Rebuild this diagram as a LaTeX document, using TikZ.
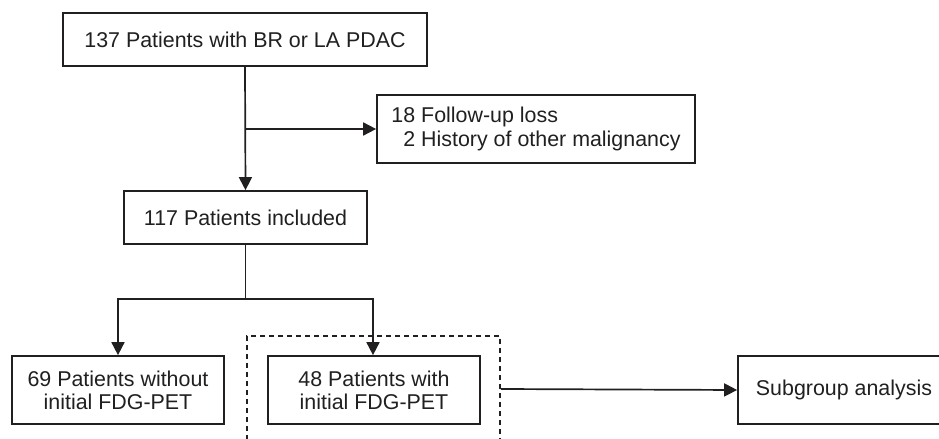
\documentclass[tikz,border=0pt]{standalone}
\usepackage{fontspec}
\setmainfont{Liberation Sans}
\usetikzlibrary{arrows.meta}

\newlength{\du}
\setlength{\du}{0.5pt}
\definecolor{dialinecolor}{rgb}{0.130000, 0.120000, 0.120000}

\tikzset{
  flowbox/.style={draw=dialinecolor, line width=0.85pt, fill=white, text=dialinecolor,
    inner sep=0pt, align=center, font=\fontsize{10.7}{11.6}\selectfont},
  groupbox/.style={draw=dialinecolor, line width=0.85pt, dash pattern=on 2.5pt off 2pt,
    minimum width=253\du, minimum height=106\du, inner sep=0pt},
  flowarrow/.style={draw=dialinecolor, line width=0.85pt, -{Triangle[length=6.5pt,width=6.5pt]}},
  flowline/.style={draw=dialinecolor, line width=0.85pt}
}

\begin{document}
\begin{tikzpicture}
\pgftransformxscale{1.000000}
\pgftransformyscale{-1.000000}
\useasboundingbox (0\du,0\du) rectangle (939\du,439\du);
% dashed frame round the FDG-PET group
\node[groupbox] (grp) at (373.500000\du,389.000000\du) {};
% boxes
\node[flowbox, minimum width=364\du, minimum height=53\du] (start) at (245.000000\du,39.500000\du) {137 Patients with BR or LA PDAC};
\node[flowbox, minimum width=318\du, minimum height=68\du, align=left] (excl) at (536.000000\du,129.000000\du) {18 Follow-up loss\\\phantom{1}2 History of other malignancy};
\node[flowbox, minimum width=243\du, minimum height=53\du] (incl) at (245.500000\du,217.500000\du) {117 Patients included};
\node[flowbox, minimum width=212\du, minimum height=68\du] (nopet) at (118.000000\du,390.000000\du) {69 Patients without\\initial FDG-PET};
\node[flowbox, minimum width=212\du, minimum height=68\du] (pet) at (374.000000\du,390.000000\du) {48 Patients with\\initial FDG-PET};
\node[flowbox, minimum width=212\du, minimum height=68\du] (sub) at (844.000000\du,390.000000\du) {Subgroup analysis};
% connectors
\coordinate (split) at (245.500000\du,299.000000\du);
\draw[flowarrow] (start.south) -- (incl.north);
\draw[flowarrow] (start.south |- excl.west) -- (excl.west);
\draw[flowline] (incl.south) -- (split);
\draw[flowarrow] (split) -| (nopet.north);
\draw[flowarrow] (split) -| ([xshift=-0.5pt]pet.north);
\draw[flowarrow] (grp.east) -- (sub.west);
\end{tikzpicture}
\end{document}
